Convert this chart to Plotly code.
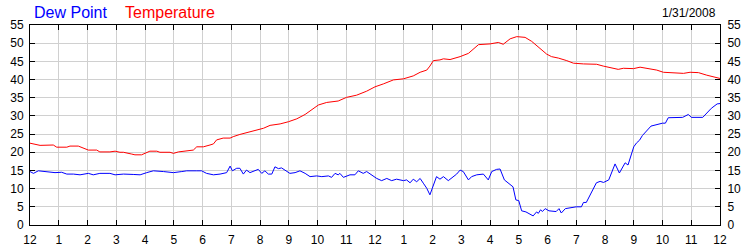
import plotly.graph_objects as go

# hours since midnight
temp_t = [0.0, 0.35, 0.81, 0.93, 1.28, 1.39, 1.68, 1.86, 2.03, 2.32, 2.43, 2.78, 2.96, 3.13, 3.25,
          3.54, 3.65, 3.88, 4.0, 4.17, 4.41, 4.52, 4.87, 4.99, 5.16, 5.45, 5.68, 5.8, 6.03, 6.26,
          6.38, 6.49, 6.72, 6.96, 7.07, 7.3, 7.59, 7.88, 8.12, 8.35, 8.7, 8.99, 9.28, 9.57, 9.86,
          10.03, 10.32, 10.72, 11.01, 11.36, 11.71, 12.0, 12.29, 12.64, 12.99, 13.33, 13.57, 13.8,
          13.91, 14.03, 14.26, 14.38, 14.61, 14.96, 15.25, 15.42, 15.6, 16.0, 16.29, 16.46, 16.7,
          16.93, 17.22, 17.45, 17.74, 17.97, 18.14, 18.38, 18.67, 18.9, 19.25, 19.71, 19.94, 20.17,
          20.46, 20.64, 20.99, 21.22, 21.57, 21.8, 22.03, 22.49, 22.73, 22.96, 23.25, 23.54, 23.83, 24.0]
temp_v = [22.5, 21.9, 22.0, 21.4, 21.4, 21.7, 21.7, 21.1, 20.6, 20.6, 20.1, 20.1, 20.3, 20.0, 20.0,
          19.5, 19.3, 19.3, 19.7, 20.3, 20.3, 20.0, 20.0, 19.7, 20.1, 20.4, 20.6, 21.5, 21.5, 22.0,
          22.3, 23.4, 23.9, 23.9, 24.3, 24.9, 25.5, 26.3, 26.6, 27.4, 27.8, 28.4, 29.2, 30.4, 32.2,
          33.0, 33.7, 34.1, 35.1, 35.7, 36.8, 38.0, 38.8, 39.9, 40.2, 41.0, 42.0, 42.6,
          43.7, 45.2, 45.4, 45.7, 45.5, 46.3, 47.2, 48.3, 49.6, 49.8, 50.2, 49.7, 51.2,
          51.8, 51.6, 50.5, 48.6, 47.0, 46.3, 45.9, 45.2, 44.5, 44.3, 44.2, 43.7, 43.3,
          42.8, 43.1, 43.0, 43.4, 43.0, 42.6, 42.0, 41.9, 41.7, 42.0, 41.9, 41.2, 40.6, 40.3]

dew_t = [0.0, 0.12, 0.29, 0.52, 0.87, 1.1, 1.28, 1.51, 1.74, 2.03, 2.2, 2.43, 2.78, 2.96, 3.25,
         3.59, 3.83, 4.06, 4.29, 4.64, 4.99, 5.28, 5.45, 5.8, 5.97, 6.14, 6.38, 6.61, 6.84, 6.96,
         7.04, 7.19, 7.3, 7.42, 7.53, 7.65, 7.83, 7.94, 8.06, 8.17, 8.29, 8.41, 8.52, 8.64, 8.75,
         9.04, 9.22, 9.39, 9.57, 9.74, 9.97, 10.15, 10.38, 10.49, 10.61, 10.72, 10.78, 10.9, 11.13,
         11.3, 11.42, 11.59, 11.71, 11.89, 12.06, 12.23, 12.41, 12.58, 12.75, 12.99, 13.1, 13.22,
         13.33, 13.45, 13.57, 13.68, 13.8, 13.91, 14.09, 14.14, 14.26, 14.38, 14.55, 14.72, 14.84,
         14.96, 15.07, 15.25, 15.36, 15.54, 15.77, 15.94, 16.06, 16.23, 16.35, 16.5, 16.6, 16.8,
         16.9, 17.0, 17.1, 17.25, 17.5, 17.62, 17.68, 17.76, 17.82, 17.92, 18.05, 18.2, 18.3,
         18.4, 18.48, 18.62, 19.0, 19.18, 19.25, 19.35, 19.55, 19.7, 19.83, 19.95, 20.13, 20.35,
         20.5, 20.7, 20.8, 21.0, 21.1, 21.2, 21.3, 21.6, 22.0, 22.1, 22.2, 22.7, 22.9, 23.0, 23.4,
         23.7, 23.9, 24.0]
dew_v = [14.7, 14.2, 14.9, 14.7, 14.4, 14.5, 14.0, 14.0, 13.8, 14.2, 13.8, 14.2, 14.2, 13.8, 14.0,
         13.9, 13.8, 14.4, 14.9, 14.7, 14.4, 14.7, 14.9, 14.9, 14.9, 14.2, 13.8, 14.0, 14.4, 16.2,
         14.9, 15.6, 15.6, 14.0, 15.1, 14.4, 15.1, 15.3, 14.2, 14.9, 14.0, 14.0, 16.0, 15.5, 15.7,
         14.2, 14.4, 14.9, 14.2, 13.3, 13.5, 13.3, 13.5, 13.1, 14.2, 13.8, 14.2, 13.1, 13.8,
         13.8, 14.9, 14.2, 14.7, 13.8, 12.8, 12.2, 12.8, 12.2, 12.6, 12.2, 12.4, 11.6,
         12.6, 11.9, 12.8, 11.5, 10.1, 8.3, 12.4, 13.3, 12.6, 13.3, 12.2, 13.3, 14.0,
         15.1, 14.7, 12.4, 13.3, 13.8, 14.0, 12.4, 14.7, 15.3, 15.4, 12.4, 11.8, 10.5,
         6.9, 6.7, 3.9, 3.6, 2.5, 3.6, 3.2, 4.2, 3.7, 4.5, 3.9, 3.8,
         3.7, 4.5, 3.3, 4.5, 5.0, 5.0, 6.2, 6.2, 9.2, 11.6, 12.0, 11.7, 12.4, 16.8,
         14.3, 17.1, 16.5, 21.5, 22.6, 23.3, 24.6, 27.2, 28.0, 28.0, 29.5, 29.6, 30.4, 29.6, 29.6,
         32.1, 33.3, 33.4]

x_ticks = list(range(25))
x_labels = ["12", "1", "2", "3", "4", "5", "6", "7", "8", "9", "10", "11",
            "12", "1", "2", "3", "4", "5", "6", "7", "8", "9", "10", "11", "12"]

FONT = "Liberation Sans, Arial, sans-serif"

fig = go.Figure()
fig.add_trace(go.Scatter(x=dew_t, y=dew_v, mode="lines",
                         line=dict(color="#0000ff", width=1), showlegend=False))
fig.add_trace(go.Scatter(x=temp_t, y=temp_v, mode="lines", yaxis="y2",
                         line=dict(color="#ff0000", width=1), showlegend=False))

axis_common = dict(ticks="inside", ticklen=5, tickcolor="black", tickwidth=1,
                   showline=True, linecolor="black", linewidth=1, zeroline=False,
                   automargin=False,
                   tickfont=dict(family=FONT, size=12, color="#000000"))

fig.update_layout(
    width=750, height=250,
    margin=dict(l=30, r=30, t=25, b=25),
    paper_bgcolor="white", plot_bgcolor="white",
    xaxis=dict(range=[0, 24], tickvals=x_ticks, ticktext=x_labels, mirror="ticks",
               showgrid=True, gridcolor="#d0d0d0", gridwidth=1, ticklabelstandoff=4,
               **axis_common),
    yaxis=dict(range=[0, 55], tick0=0, dtick=5, mirror=True, showgrid=True,
               gridcolor="#d0d0d0", gridwidth=1, ticklabelstandoff=3, **axis_common),
    yaxis2=dict(range=[0, 55], tick0=0, dtick=5, overlaying="y", side="right",
                showgrid=False, ticklabelstandoff=4, **axis_common),
    annotations=[
        dict(text="Dew Point", x=0.003, y=1.065, xref="paper", yref="paper",
             xanchor="left", yanchor="middle", showarrow=False,
             font=dict(family=FONT, size=16, color="#0000ff")),
        dict(text="Temperature", x=0.135, y=1.065, xref="paper", yref="paper",
             xanchor="left", yanchor="middle", showarrow=False,
             font=dict(family=FONT, size=16, color="#ff0000")),
        dict(text="1/31/2008", x=0.997, y=1.06, xref="paper", yref="paper",
             xanchor="right", yanchor="middle", showarrow=False,
             font=dict(family=FONT, size=12, color="#000000")),
    ],
)

fig.write_html("out.html")
